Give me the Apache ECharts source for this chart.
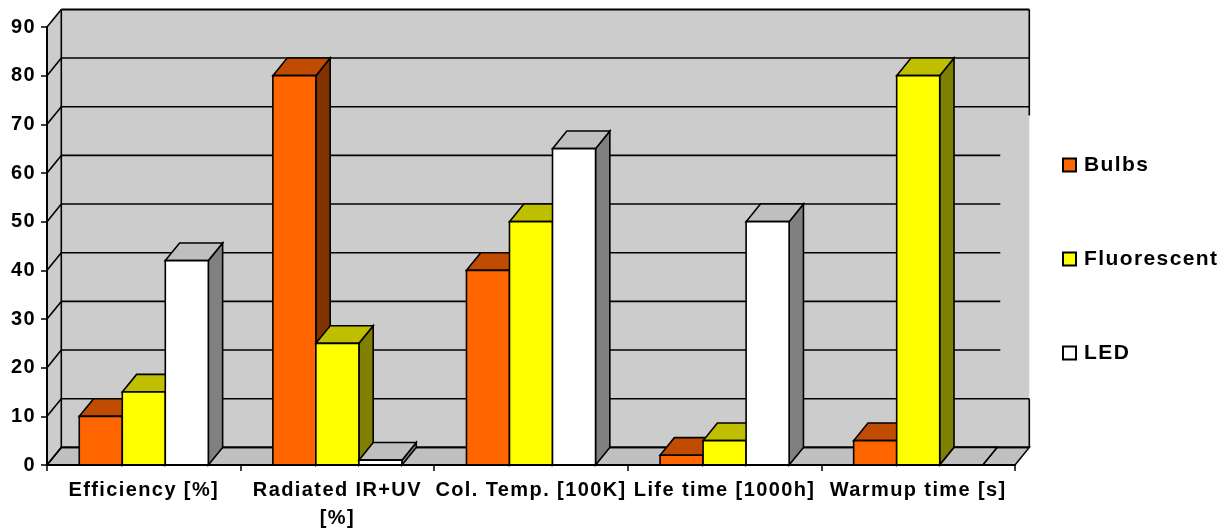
<!DOCTYPE html>
<html>
<head>
<meta charset="utf-8">
<title>Bulbs, Fluorescent, LED</title>
<style>
  html, body { margin: 0; padding: 0; background: #fff; }
  #chart { width: 1230px; height: 531px; }
</style>
<script src="https://cdn.jsdelivr.net/npm/echarts@6/dist/echarts.min.js"></script>
</head>
<body>
<div id="chart"></div>
<script>
const categories = ['Efficiency [%]', 'Radiated IR+UV\n[%]', 'Col. Temp. [100K]', 'Life time [1000h]', 'Warmup time [s]'];
const bulbs = [10, 80, 40, 2, 5];
const fluorescent = [15, 25, 50, 5, 80];
const led = [42, 1, 65, 50, 0];
const yTicks = [0, 10, 20, 30, 40, 50, 60, 70, 80, 90];

const FONT = '"Liberation Sans", Arial, sans-serif';
const INK = '#000';
const LW = 1.6;
// caras de cada serie: frente, tapa, lateral
const FACES = {
  Bulbs: ['#ff6600', '#bf4c00', '#803300'],
  Fluorescent: ['#ffff00', '#bfbf00', '#808000'],
  LED: ['#ffffff', '#bfbfbf', '#808080'],
};
// profundidad del falso 3D, en pixeles
const DX = 14.3, DY = 17.6;

function poly(points, fill) {
  return { type: 'polygon', shape: { points }, style: { fill, stroke: INK, lineWidth: LW } };
}
function seg(x1, y1, x2, y2, w) {
  return { type: 'line', shape: { x1, y1, x2, y2 }, style: { stroke: INK, lineWidth: w || LW } };
}

// paredes, suelo y rejilla del fondo
function renderWalls(params, api) {
  const half = api.size([1, 0])[0] / 2;
  const [x0, yBase] = api.coord([0, 0]);
  const left = x0 - half;
  const right = api.coord([categories.length - 1, 0])[0] + half;
  const yTop = api.coord([0, 90])[1];
  const kids = [
    { type: 'polygon', shape: { points: [[left + DX, yTop - DY], [right + DX, yTop - DY], [right + DX, yBase - DY], [left + DX, yBase - DY]] }, style: { fill: '#cccccc' } },
    { type: 'polygon', shape: { points: [[left, yTop], [left + DX, yTop - DY], [left + DX, yBase - DY], [left, yBase]] }, style: { fill: '#cccccc' } },
    poly([[left, yBase], [left + DX, yBase - DY], [right + DX, yBase - DY], [right, yBase]], '#c0c0c0'),
  ];
  yTicks.forEach(t => {
    const y = api.coord([0, t])[1];
    // la leyenda tapa el tramo final de las lineas 20-60 y del borde derecho
    const cut = t >= 20 && t <= 60;
    kids.push(seg(left, y, left + DX, y - DY));
    kids.push(seg(left + DX, y - DY, cut ? right + DX - 29 : right + DX, y - DY, t === 90 ? 2 : LW));
  });
  kids.push(seg(left + DX, yTop - DY, left + DX, yBase - DY));
  kids.push(seg(right + DX, yTop - DY, right + DX, api.coord([0, 68.2])[1] - DY));
  kids.push(seg(right + DX, api.coord([0, 10])[1] - DY, right + DX, yBase - DY));
  return { type: 'group', children: kids };
}

function renderBar(idx, params, api) {
  const cat = api.value(0);
  const [cx, y1] = api.coord([cat, api.value(1)]);
  const y0 = api.coord([cat, 0])[1];
  const w = api.size([1, 0])[0] / 4.5;
  const x0 = cx - 1.5 * w + idx * w;
  const x1 = x0 + w;
  const f = FACES[params.seriesName];
  return {
    type: 'group',
    children: [
      poly([[x1, y1], [x1 + DX, y1 - DY], [x1 + DX, y0 - DY], [x1, y0]], f[2]),
      poly([[x0, y1], [x0 + DX, y1 - DY], [x1 + DX, y1 - DY], [x1, y1]], f[1]),
      poly([[x0, y1], [x1, y1], [x1, y0], [x0, y0]], f[0]),
    ],
  };
}

function barSeries(name, values, idx) {
  return {
    name,
    type: 'custom',
    coordinateSystem: 'cartesian2d',
    clip: false,
    z: 3 + idx,
    itemStyle: { color: FACES[name][0], borderColor: INK, borderWidth: 1.5 },
    encode: { x: 0, y: 1 },
    data: values.map((v, i) => [i, v]),
    renderItem: (params, api) => renderBar(idx, params, api),
  };
}

const chart = echarts.init(document.getElementById('chart'), null, { renderer: 'canvas' });
chart.setOption({
  animation: false,
  backgroundColor: '#fff',
  grid: { left: 47, top: 27, width: 968, height: 438, containLabel: false, outerBoundsMode: 'none' },
  legend: {
    orient: 'vertical', left: 1062, top: 153, padding: 0, itemWidth: 13, itemHeight: 13, itemGap: 70,
    textStyle: { fontFamily: FONT, fontWeight: 'bold', fontSize: 21, color: INK, padding: [0, 0, 0, 3], lineHeight: 24 },
    data: Object.keys(FACES).map(name => ({ name, icon: 'rect' })),
    selectedMode: false,
  },
  xAxis: {
    type: 'category', data: categories, z: 10,
    axisLine: { lineStyle: { color: INK, width: 2 } },
    axisTick: { show: true, length: 6, lineStyle: { color: INK, width: 1.5 } },
    axisLabel: { interval: 0, fontFamily: FONT, fontWeight: 'bold', fontSize: 20, color: INK, margin: 11, lineHeight: 28 },
  },
  yAxis: {
    type: 'value', min: 0, max: 90, interval: 10, z: 10,
    axisLine: { show: true, lineStyle: { color: INK, width: 2 } },
    axisTick: { show: true, length: 6, lineStyle: { color: INK, width: 1.5 } },
    axisLabel: { fontFamily: FONT, fontWeight: 'bold', fontSize: 20, color: INK, margin: 11 },
    splitLine: { show: false },
  },
  series: [
    { name: 'walls', type: 'custom', coordinateSystem: 'cartesian2d', clip: false, z: 2, silent: true,
      encode: { x: 0, y: 1 }, data: [[0, 0]], renderItem: renderWalls },
    barSeries('Bulbs', bulbs, 0),
    barSeries('Fluorescent', fluorescent, 1),
    barSeries('LED', led, 2),
  ],
});
// el original tiene las letras bastante separadas: se repinta con ese espaciado
chart.getDom().querySelector('canvas').getContext('2d').letterSpacing = '1.4px';
chart.getZr().painter.refresh(true);
</script>
</body>
</html>
